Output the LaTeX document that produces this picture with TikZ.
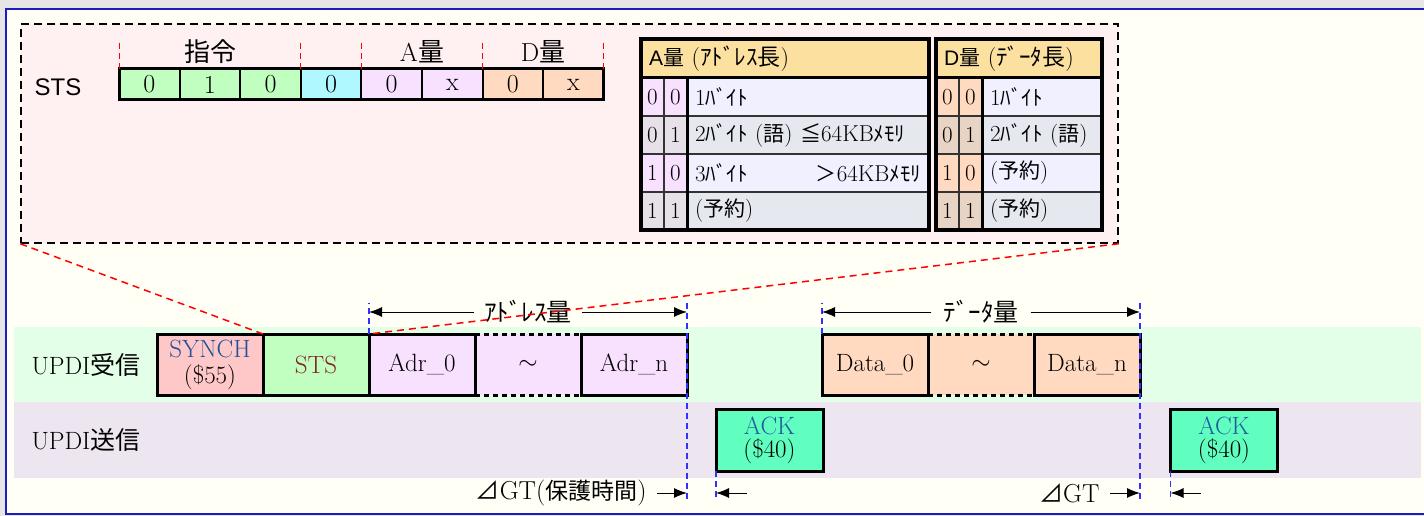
\documentclass[tikz,border=0pt]{standalone}
\usepackage{fontspec}
\usepackage{tikz}
\usetikzlibrary{positioning,arrows.meta}
\newfontfamily\jp{Noto Sans CJK JP}
\newfontfamily\arial{Liberation Sans}
\newcommand{\fsz}[2]{\fontsize{#1}{#2}\selectfont}
\newcommand{\tj}[1]{{\jp\fsz{21}{24}#1}}
\definecolor{pagegray}{HTML}{E6E6E6}
\definecolor{ivory}{HTML}{FFFFF6}
\definecolor{frameblue}{HTML}{1C1CC0}
\definecolor{callpink}{HTML}{FFF0F2}
\definecolor{bitgreen}{HTML}{C0FFC0}
\definecolor{bitcyan}{HTML}{B0F8FF}
\definecolor{lav}{HTML}{F8E0FF}
\definecolor{peach}{HTML}{FFD9C0}
\definecolor{headgold}{HTML}{FCE0A0}
\definecolor{rowlight}{HTML}{F0F0FF}
\definecolor{rowdark}{HTML}{E6E8F0}
\definecolor{lavdark}{HTML}{E8E0E8}
\definecolor{peachdark}{HTML}{E8D4C4}
\definecolor{synchpink}{HTML}{FFC8C8}
\definecolor{synchblue}{HTML}{20509A}
\definecolor{stsred}{HTML}{8B1E1E}
\definecolor{ackgreen}{HTML}{60FFC0}
\definecolor{ackblue}{HTML}{1F5F9F}
\definecolor{bandrx}{HTML}{E4FFE8}
\definecolor{bandtx}{HTML}{EDE6F0}
\definecolor{guideblue}{HTML}{3030FF}

\begin{document}
\begin{tikzpicture}[x=1pt, y=-1pt,
    >={Latex[length=13pt,width=10pt]},
    frame/.style={draw=black, line width=3pt, outer sep=0pt, inner sep=0pt,
      minimum width=106pt, minimum height=61pt, align=center, font=\fsz{25}{26}},
    bitcell/.style={draw=black, line width=2pt, outer sep=0pt, inner sep=0pt,
      minimum width=60.6pt, minimum height=31pt, font=\fsz{26}{28}},
    tcell/.style={draw=black!80, line width=1.5pt, outer sep=0pt, inner sep=0pt,
      minimum width=23pt, minimum height=38pt, font=\fsz{23}{25}},
    ttext/.style={tcell, inner xsep=8pt, text width=#1, align=left},
    thead/.style={tcell, fill=headgold, minimum height=39pt, inner xsep=8pt,
      text width=#1, align=left},
    guide/.style={draw=guideblue, line width=1.3pt, dash pattern=on 6pt off 4pt},
    zoomline/.style={draw=red, line width=1.5pt, dash pattern=on 7pt off 5pt},
    redtick/.style={draw=red, line width=1pt, dash pattern=on 6pt off 4pt},
    dimline/.style={->, line width=1pt},
    gap/.style={line width=3pt, dash pattern=on 5pt off 4pt},
  ]
    \useasboundingbox (0,0) rectangle (1424,516);
    % fond et cadre
    \fill[pagegray] (0,0) rectangle (1424,516);
    \filldraw[fill=ivory, draw=frameblue, line width=2pt] (6,9) rectangle (1440,514);

    % zone agrandie (STS)
    \node (zoom) [draw, fill=callpink, line width=1.5pt, dash pattern=on 8pt off 5pt,
      minimum width=1097pt, minimum height=219pt, inner sep=0pt] at (569.5,133.5) {};
    \node (stslbl) [font=\arial\fsz{24}{26}] at (58,87) {STS};
    \node (b1) [bitcell, fill=bitgreen] at (149.3,84.5) {0};
    \node (b2) [bitcell, fill=bitgreen, right=0pt of b1] {1};
    \node (b3) [bitcell, fill=bitgreen, right=0pt of b2] {0};
    \node (b4) [bitcell, fill=bitcyan, right=0pt of b3] {0};
    \node (b5) [bitcell, fill=lav, right=0pt of b4] {0};
    \node (b6) [bitcell, fill=lav, right=0pt of b5] {x};
    \node (b7) [bitcell, fill=peach, right=0pt of b6] {0};
    \node (b8) [bitcell, fill=peach, right=0pt of b7] {x};
    \draw[line width=3pt] (b1.north west) rectangle (b8.south east);
    \node (cmd) [font=\jp\fsz{26}{28}] at (210,52) {指令};
    \node (aq) [font=\fsz{26}{28}] at (422,52) {A{\jp 量}};
    \node (dq) [font=\fsz{26}{28}] at (543,52) {D{\jp 量}};
    \coordinate (tick) at (0,40);
    \draw[redtick] (b1.north west) -- (b1.north west |- tick);
    \draw[redtick] (b3.north east) -- (b3.north east |- tick);
    \draw[redtick] (b4.north east) -- (b4.north east |- tick);
    \draw[redtick] (b6.north east) -- (b6.north east |- tick);
    \draw[redtick] (b8.north east) -- (b8.north east |- tick);

    % table A量
    \node (ahead) [thead=272pt] at (785,58.5) {{\arial\fsz{21}{24}A}{\jp\fsz{21}{24}量}\,\,{\fsz{24}{24}(}{\jp\fsz{23}{24}ｱﾄﾞﾚｽ長}{\fsz{24}{24})}};
    \node (a1x) [tcell, fill=lav] at (652.5,97) {0};
    \node (a1y) [tcell, fill=lav, right=0pt of a1x] {0};
    \node (a1t) [ttext=226pt, fill=rowlight, right=0pt of a1y] {1\tj{ﾊﾞｲﾄ}};
    \node (a2x) [tcell, fill=lavdark, below=0pt of a1x] {0};
    \node (a2y) [tcell, fill=lavdark, right=0pt of a2x] {1};
    \node (a2t) [ttext=226pt, fill=rowdark, right=0pt of a2y] {2\tj{ﾊﾞｲﾄ} (\tj{語}) \tj{≦}64KB\tj{ﾒﾓﾘ}};
    \node (a3x) [tcell, fill=lav, below=0pt of a2x] {1};
    \node (a3y) [tcell, fill=lav, right=0pt of a3x] {0};
    \node (a3t) [ttext=226pt, fill=rowlight, right=0pt of a3y] {\makebox[226pt]{3\tj{ﾊﾞｲﾄ}\hfill\tj{＞}64KB\tj{ﾒﾓﾘ}}};
    \node (a4x) [tcell, fill=lavdark, below=0pt of a3x] {1};
    \node (a4y) [tcell, fill=lavdark, right=0pt of a4x] {1};
    \node (a4t) [ttext=226pt, fill=rowdark, right=0pt of a4y] {(\tj{予約})};
    \draw[line width=3pt] (ahead.south west) -- (ahead.south east);
    \draw[line width=3pt] (a1y.north east) -- (a4y.south east);
    \draw[line width=4pt] (ahead.north west) rectangle (a4t.south east);

    % table D量
    \node (dhead) [thead=150pt] at (1019,58.5) {{\arial\fsz{21}{24}D}{\jp\fsz{21}{24}量}\,\,{\fsz{24}{24}(}{\jp\fsz{23}{24}ﾃﾞｰﾀ長}{\fsz{24}{24})}};
    \node (d1x) [tcell, fill=peach] at (947.5,97) {0};
    \node (d1y) [tcell, fill=peach, right=0pt of d1x] {0};
    \node (d1t) [ttext=104pt, fill=rowlight, right=0pt of d1y] {1\tj{ﾊﾞｲﾄ}};
    \node (d2x) [tcell, fill=peachdark, below=0pt of d1x] {0};
    \node (d2y) [tcell, fill=peachdark, right=0pt of d2x] {1};
    \node (d2t) [ttext=104pt, fill=rowdark, right=0pt of d2y] {2\tj{ﾊﾞｲﾄ} (\tj{語})};
    \node (d3x) [tcell, fill=peach, below=0pt of d2x] {1};
    \node (d3y) [tcell, fill=peach, right=0pt of d3x] {0};
    \node (d3t) [ttext=104pt, fill=rowlight, right=0pt of d3y] {(\tj{予約})};
    \node (d4x) [tcell, fill=peachdark, below=0pt of d3x] {1};
    \node (d4y) [tcell, fill=peachdark, right=0pt of d4x] {1};
    \node (d4t) [ttext=104pt, fill=rowdark, right=0pt of d4y] {(\tj{予約})};
    \draw[line width=3pt] (dhead.south west) -- (dhead.south east);
    \draw[line width=3pt] (d1y.north east) -- (d4y.south east);
    \draw[line width=4pt] (dhead.north west) rectangle (d4t.south east);

    % bandes UPDI
    \fill[bandrx] (14,327) rectangle (1421,402);
    \fill[bandtx] (14,402) rectangle (1421,478);
    \node (rx) [anchor=west, font=\fsz{25}{26}] at (28,365) {UPDI{\jp 受信}};
    \node (tx) [anchor=west, font=\fsz{25}{26}] at (28,440) {UPDI{\jp 送信}};

    % trames reçues
    \node (synch) [frame, fill=synchpink] at (210,364.5) {{\color{synchblue}SYNCH}\\(\$55)};
    \node (sts) [frame, fill=bitgreen, text=stsred, right=0pt of synch] {STS};
    \node (adr0) [frame, fill=lav, right=0pt of sts] {Adr\_0};
    \node (adrd) [frame, draw=none, fill=lav, right=0pt of adr0] {$\sim$};
    \node (adrn) [frame, fill=lav, right=0pt of adrd] {Adr\_n};
    \draw[line width=3pt] (adrd.north west) -- (adrd.south west);
    \draw[gap] (adrd.north west) -- (adrd.north east);
    \draw[gap] (adrd.south west) -- (adrd.south east);
    \node (dat0) [frame, fill=peach] at (875,364.5) {Data\_0};
    \node (datd) [frame, draw=none, fill=peach, right=0pt of dat0] {$\sim$};
    \node (datn) [frame, fill=peach, right=0pt of datd] {Data\_n};
    \draw[line width=3pt] (datd.north west) -- (datd.south west);
    \draw[gap] (datd.north west) -- (datd.north east);
    \draw[gap] (datd.south west) -- (datd.south east);

    % réponses ACK
    \node (ack1) [frame, fill=ackgreen, minimum width=107pt, minimum height=62pt,
      font=\fsz{25}{23}] at (769.5,440) {{\color{ackblue}ACK}\\(\$40)};
    \node (ack2) [frame, fill=ackgreen, minimum width=107pt, minimum height=62pt,
      font=\fsz{25}{23}] at (1224,440) {{\color{ackblue}ACK}\\(\$40)};

    % repères verticaux
    \coordinate (top) at (0,303);
    \coordinate (bot) at (0,500);
    \draw[guide] (sts.north east) -- (sts.north east |- top);
    \draw[guide] (adrn.north east |- top) -- (adrn.north east |- bot);
    \draw[guide] (dat0.north west) -- (dat0.north west |- top);
    \draw[guide] (datn.north east |- top) -- (datn.north east |- bot);
    \draw[guide] (ack1.south west) -- (ack1.south west |- bot);
    \draw[guide] (ack2.south west) -- (ack2.south west |- bot);

    % cotes
    \node (alen) [font=\jp\fsz{25}{26}, inner xsep=10pt] at (528,312) {ｱﾄﾞﾚｽ量};
    \coordinate (alenl) at (sts.north east |- alen);
    \coordinate (alenr) at (adrn.north east |- alen);
    \draw[dimline] (alen) -- (alenl);
    \draw[dimline] (alen) -- (alenr);
    \node (dlen) [font=\jp\fsz{25}{26}, inner xsep=12pt] at (981,312) {ﾃﾞｰﾀ量};
    \coordinate (dlenl) at (dat0.north west |- dlen);
    \coordinate (dlenr) at (datn.north east |- dlen);
    \draw[dimline] (dlen) -- (dlenl);
    \draw[dimline] (dlen) -- (dlenr);

    % temps de garde
    \node (gt1) [anchor=east, font=\fsz{26}{28}] at (650,493) {{\jp\fsz{24}{26}⊿}GT({\jp\fsz{23}{26}保護時間})};
    \coordinate (gt1r) at (adrn.north east |- gt1);
    \draw[dimline] (gt1.east) ++(7,0) coordinate (gt1s) -- (gt1r);
    \coordinate (gt1a) at (747,493);
    \draw[dimline] (gt1a) -- (ack1.south west |- gt1a);
    \node (gt2) [anchor=east, font=\fsz{26}{28}] at (1103,493) {{\jp\fsz{24}{26}⊿}GT};
    \coordinate (gt2r) at (datn.north east |- gt2);
    \draw[dimline] (gt2.east) ++(7,0) coordinate (gt2s) -- (gt2r);
    \coordinate (gt2a) at (1201,493);
    \draw[dimline] (gt2a) -- (ack2.south west |- gt2a);

    % lignes de zoom
    \draw[zoomline] (zoom.south west) -- (sts.north west);
    \draw[zoomline] (zoom.south east) -- (sts.north east);
\end{tikzpicture}
\end{document}
